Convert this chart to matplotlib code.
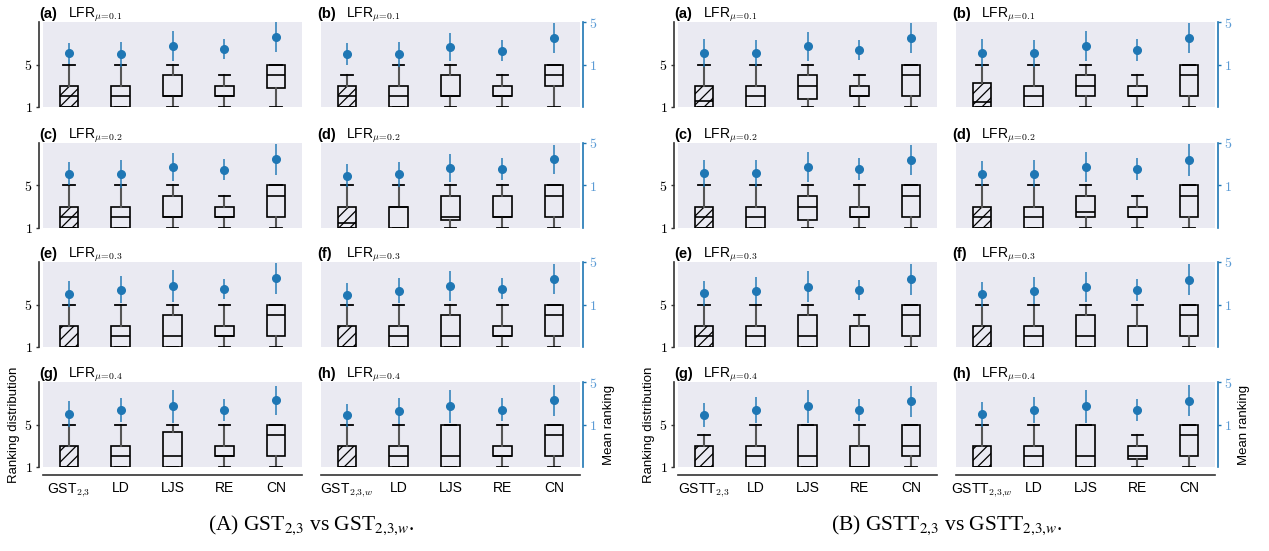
import matplotlib.pyplot as plt

plt.rcParams['mathtext.fontset'] = 'cm'
plt.rcParams['font.family'] = ['Liberation Sans', 'DejaVu Sans']
plt.rcParams['hatch.linewidth'] = 0.9

# ---- data -------------------------------------------------------------
methods_A = [r'GST$_{2{,}3}$', 'LD', 'LJS', 'RE', 'CN']
methods_A_w = [r'GST$_{2{,}3{,}w}$', 'LD', 'LJS', 'RE', 'CN']
methods_B = [r'GSTT$_{2{,}3}$', 'LD', 'LJS', 'RE', 'CN']
methods_B_w = [r'GSTT$_{2{,}3{,}w}$', 'LD', 'LJS', 'RE', 'CN']
panel_tags = ['(a)', '(b)', '(c)', '(d)', '(e)', '(f)', '(g)', '(h)']
mus = ['0.1', '0.1', '0.2', '0.2', '0.3', '0.3', '0.4', '0.4']

# box statistics of the ranking distribution, one row per panel (a)..(h)
A_q1 = [[1, 1, 2, 2, 2.75], [1, 1, 2, 2, 3], [1, 1, 2, 2, 2], [1, 1, 1.75, 2, 2],
        [1, 1, 1, 2, 2], [1, 1, 1, 2, 2], [1, 1, 1, 2, 2], [1, 1, 1, 2, 2]]
A_med = [[2, 2, 2, 2, 4], [2, 2, 2, 2, 4], [2, 2, 2, 2, 4], [1.5, 3, 2, 2, 4],
         [1, 2, 2, 2, 4], [1, 2, 2, 2, 4], [1, 2, 2, 2, 4], [1, 2, 2, 2, 4]]
A_q3 = [[3, 3, 4, 3, 5], [3, 3, 4, 3, 5], [3, 3, 4, 3, 5], [3, 3, 4, 4, 5],
        [3, 3, 4, 3, 5], [3, 3, 4, 3, 5], [3, 3, 4.25, 3, 5], [3, 3, 5, 3, 5]]
A_lo = [[1, 1, 1, 1, 1]] * 8
A_hi = [[5, 5, 5, 4, 5], [4, 5, 5, 4, 5], [5, 5, 5, 4, 5], [5, 5, 5, 5, 5],
        [5, 5, 5, 5, 5], [5, 5, 5, 5, 5], [5, 5, 5, 5, 5], [5, 5, 5, 5, 5]]
A_mean = [[2.05, 1.95, 2.72, 2.48, 3.58], [2.0, 1.95, 2.66, 2.3, 3.5],
          [2.09, 2.1, 2.74, 2.5, 3.45], [1.93, 2.05, 2.67, 2.55, 3.45],
          [2.0, 2.4, 2.74, 2.43, 3.45], [1.9, 2.3, 2.74, 2.5, 3.4],
          [2.0, 2.35, 2.72, 2.35, 3.28], [1.86, 2.26, 2.7, 2.4, 3.28]]
A_err = [[1.0, 1.2, 1.4, 0.95, 1.45], [1.06, 1.2, 1.34, 1.0, 1.4],
         [1.08, 1.3, 1.33, 1.0, 1.45], [1.05, 1.2, 1.33, 1.05, 1.4],
         [1.24, 1.27, 1.5, 0.93, 1.45], [1.1, 1.2, 1.45, 0.95, 1.45],
         [1.2, 1.15, 1.54, 1.05, 1.38], [1.08, 1.2, 1.56, 1.1, 1.44]]

B_q1 = [[1, 1, 1.75, 2, 2], [1, 1, 2, 2, 2], [1, 1, 1.75, 2, 2], [1, 1, 2, 2, 2],
        [1, 1, 1, 1, 2], [1, 1, 1, 1, 2], [1, 1, 1, 1, 2], [1, 1, 1, 1.75, 2]]
B_med = [[1.6, 2, 3, 2, 4], [1.5, 2, 3, 2, 4], [2, 2, 3, 2, 4], [2, 2, 2.5, 2, 4],
         [2, 2, 2, 1, 4], [1, 2, 2, 1, 4], [1, 2, 2, 1, 3], [1, 2, 2, 2, 4]]
B_q3 = [[3, 3, 4, 3, 5], [3.25, 3, 4, 3, 5], [3, 3, 4, 3, 5], [3, 3, 4, 3, 5],
        [3, 3, 4, 3, 5], [3, 3, 4, 3, 5], [3, 3, 5, 3, 5], [3, 3, 5, 3, 5]]
B_lo = [[1, 1, 1, 1, 1]] * 8
B_hi = [[5, 5, 5, 4, 5], [5, 5, 5, 4, 5], [5, 5, 5, 5, 5], [5, 5, 5, 4, 5],
        [5, 5, 5, 4, 5], [5, 5, 5, 5, 5], [4, 5, 5, 5, 5], [5, 5, 5, 4, 5]]
B_mean = [[2.08, 2.05, 2.72, 2.4, 3.5], [2.08, 2.05, 2.72, 2.37, 3.5],
          [2.15, 2.15, 2.74, 2.55, 3.4], [2.09, 2.12, 2.74, 2.55, 3.4],
          [2.05, 2.3, 2.67, 2.36, 3.36], [1.96, 2.3, 2.67, 2.4, 3.33],
          [1.9, 2.35, 2.72, 2.35, 3.2], [1.95, 2.38, 2.72, 2.38, 3.25]]
B_err = [[1.3, 1.23, 1.36, 0.95, 1.4], [1.3, 1.25, 1.4, 1.0, 1.4],
         [1.25, 1.28, 1.4, 1.0, 1.4], [1.17, 1.25, 1.4, 1.0, 1.55],
         [1.2, 1.27, 1.45, 0.95, 1.42], [1.2, 1.27, 1.43, 1.03, 1.45],
         [1.13, 1.25, 1.54, 1.05, 1.46], [1.17, 1.25, 1.54, 1.03, 1.44]]

# ---- layout -----------------------------------------------------------
W, H = 1269, 551
fig = plt.figure(figsize=(W / 100, H / 100), dpi=100)

bg = '#eaeaf2'
blue = '#1f77b4'
light_blue = '#5b9bd5'
dark = '#333333'
pw, ph = 259, 85
row_bottom = [107, 228, 347, 467]

groups = [
    dict(cols=[43, 321], labels=[methods_A, methods_A_w], q1=A_q1, med=A_med, q3=A_q3,
         lo=A_lo, hi=A_hi, mean=A_mean, err=A_err,
         caption=r'(A) GST$_{2{,}3}$ vs GST$_{2{,}3{,}w}$.'),
    dict(cols=[678, 956], labels=[methods_B, methods_B_w], q1=B_q1, med=B_med, q3=B_q3,
         lo=B_lo, hi=B_hi, mean=B_mean, err=B_err,
         caption=r'(B) GSTT$_{2{,}3}$ vs GSTT$_{2{,}3{,}w}$.'),
]

pos = [1, 2, 3, 4, 5]
for g in groups:
    for k in range(8):
        row, col = k // 2, k % 2
        x0 = g['cols'][col]
        ax = fig.add_axes([x0 / W, 1 - row_bottom[row] / H, pw / W, ph / H])
        ax.set_facecolor(bg)

        stats = []
        for j in range(5):
            stats.append(dict(q1=g['q1'][k][j], med=g['med'][k][j], q3=g['q3'][k][j],
                              whislo=g['lo'][k][j], whishi=g['hi'][k][j], fliers=[]))
        bp = ax.bxp(stats, positions=pos, widths=0.36, patch_artist=True,
                    showfliers=False, capwidths=0.22,
                    boxprops=dict(facecolor='none', edgecolor='black', linewidth=1.2),
                    medianprops=dict(color='black', linewidth=1.2),
                    whiskerprops=dict(color='#555555', linewidth=1.5),
                    capprops=dict(color='black', linewidth=1.3))
        bp['boxes'][0].set_hatch('///')

        ax.set_xlim(0.5, 5.5)
        ax.set_ylim(1, 9)
        ax.spines['top'].set_visible(False)
        ax.spines['right'].set_visible(False)

        if col == 0:
            ax.spines['left'].set_position(('outward', 3))
            ax.spines['left'].set_color(dark)
            ax.spines['left'].set_linewidth(1.2)
            ax.set_yticks([1, 5])
            ax.set_yticklabels(['$1$', '$5$'], fontsize=10)
            ax.tick_params(axis='y', length=2.5, width=1, color=dark, pad=2)
        else:
            ax.spines['left'].set_visible(False)
            ax.set_yticks([])

        if row == 3:
            ax.spines['bottom'].set_position(('outward', 6))
            ax.spines['bottom'].set_color(dark)
            ax.spines['bottom'].set_linewidth(1.2)
            ax.set_xticks(pos)
            ax.set_xticklabels(g['labels'][col], fontsize=10)
            ax.tick_params(axis='x', length=0, pad=4)
        else:
            ax.spines['bottom'].set_visible(False)
            ax.set_xticks([])

        if row == 3 and col == 0:
            ax.set_ylabel('Ranking distribution', fontsize=9.5, labelpad=3)

        ax.text(-0.014, 1.05, panel_tags[k], transform=ax.transAxes,
                fontsize=10.5, fontweight='bold', va='baseline')
        ax.text(0.097, 1.05, 'LFR$_{\\mu\\!=\\!' + mus[k] + '}$', transform=ax.transAxes,
                fontsize=10, va='baseline')

        ax2 = ax.twinx()
        ax2.errorbar(pos, g['mean'][k], yerr=g['err'][k], fmt='o', color=blue,
                     ms=5.5, elinewidth=1.4, ecolor=(0.12, 0.47, 0.71, 0.75), capsize=0)
        ax2.set_ylim(-3, 5)
        ax2.set_xlim(0.5, 5.5)
        for s in ['top', 'left', 'bottom']:
            ax2.spines[s].set_visible(False)
        if col == 1:
            ax2.spines['right'].set_position(('outward', 2))
            ax2.spines['right'].set_color(blue)
            ax2.spines['right'].set_linewidth(1.2)
            ax2.set_yticks([1, 5])
            ax2.set_yticklabels(['$1$', '$5$'], fontsize=10, color=light_blue)
            ax2.tick_params(axis='y', length=2.5, width=1, color=blue, pad=2)
            if row == 3:
                ax2.set_ylabel('Mean ranking', fontsize=9.5, labelpad=4)
        else:
            ax2.spines['right'].set_visible(False)
            ax2.set_yticks([])

    xc = (g['cols'][0] + g['cols'][1] + pw) / 2
    fig.text(xc / W, 1 - 530 / H, g['caption'], ha='center', va='baseline',
             fontsize=15.5, family='Liberation Serif', math_fontfamily='stix')

fig.savefig('out.png', dpi=100)
